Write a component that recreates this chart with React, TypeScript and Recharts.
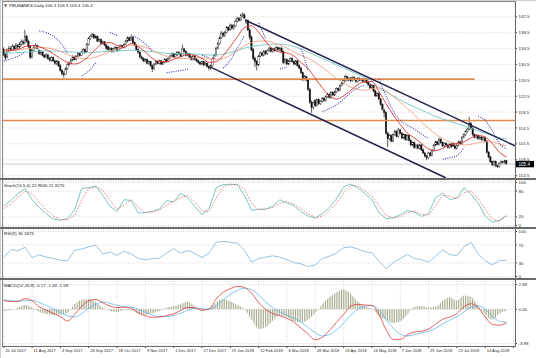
import React from 'react';
import { ComposedChart, Bar, Line, Area, XAxis, YAxis, CartesianGrid, ReferenceLine } from 'recharts';

// daily bars from 20 Jul 2017
const opens = [
  134.2, 133.0, 132.4, 134.0, 134.6, 134.2, 135.0, 134.4, 135.3, 134.9, 135.6, 136.2, 135.8, 137.6, 136.4, 135.0,
  132.4, 134.0, 134.8, 135.2, 134.0, 133.2, 133.6, 132.8, 132.4, 132.9, 132.0, 131.6, 132.2, 131.4, 130.8,
  131.2, 130.2, 129.0, 128.2, 128.0, 129.4, 130.4, 130.8, 131.6, 132.4, 131.8, 132.6, 133.2, 132.8, 133.6, 134.2,
  133.6, 135.6, 137.0, 137.6, 138.0, 137.2, 137.6, 136.4, 136.8, 135.8, 136.2, 135.4, 135.0, 134.2, 134.6,
  133.8, 134.4, 134.8, 134.0, 134.6, 135.2, 134.8, 135.6, 136.4, 137.2, 136.6, 137.4, 136.0, 135.4, 134.2, 133.6,
  132.4, 132.0, 131.4, 131.8, 130.8, 131.2, 130.2, 129.4, 130.6, 131.2, 130.8, 131.4, 130.6, 131.0, 131.8, 131.2,
  132.0, 132.6, 133.2, 132.4, 132.8, 133.6, 133.2, 132.6, 134.4, 133.8, 132.8, 133.2, 132.4, 131.8, 132.6,
  131.8, 131.4, 131.0, 130.6, 131.2, 130.4, 130.8, 130.0, 129.6, 130.2, 132.0, 132.8, 134.6, 135.8, 137.2, 138.4,
  137.8, 138.6, 139.8, 139.2, 140.4, 139.6, 140.2, 141.4, 142.0, 141.6, 142.8, 143.0, 141.0, 141.6, 139.2,
  137.4, 134.2, 132.0, 131.2, 130.4, 132.6, 133.4, 132.8, 133.8, 133.2, 134.0, 134.6, 133.8, 134.4, 134.0, 134.8,
  134.2, 134.6, 133.8, 131.0, 131.8, 130.6, 131.4, 132.0, 131.2, 130.6, 131.4, 130.2, 129.6, 128.4, 126.8, 127.4,
  126.6, 124.2, 121.0, 119.6, 121.4, 120.2, 121.6, 120.6, 121.2, 122.0, 121.4, 122.4, 123.0, 122.2, 123.4,
  122.8, 123.6, 124.4, 124.0, 125.2, 125.8, 126.4, 127.4, 126.6, 127.0, 126.4, 127.2, 126.8, 126.2, 127.0, 126.6,
  126.8, 126.2, 126.8, 126.0, 125.4, 124.6, 125.2, 123.8, 122.6, 123.2, 121.8, 120.4, 119.0, 118.4, 113.2,
  111.8, 112.6, 111.2, 112.8, 113.6, 112.4, 114.0, 113.2, 112.0, 112.8, 111.6, 112.6, 111.4, 110.2, 110.8, 109.6,
  110.2, 109.4, 110.2, 109.0, 108.2, 107.4, 107.0, 108.2, 107.6, 108.8, 110.2, 111.0, 110.4, 111.6, 110.8, 110.0,
  110.6, 110.2, 109.6, 110.4, 110.6, 110.0, 109.4, 110.2, 111.0, 110.6, 112.2, 112.8, 113.6, 114.2, 115.6,
  114.4, 112.8, 112.2, 112.6, 111.8, 112.2, 111.6, 112.0, 111.2, 108.4, 107.2, 106.0, 105.2, 106.0, 105.0, 104.8,
  105.6, 106.0, 105.8, 106.3,
];
const highs = [
  134.8, 133.6, 134.5, 135.2, 135.0, 135.6, 135.4, 135.9, 135.6, 136.1, 136.8, 136.7, 139.2, 138.0, 136.8, 135.4,
  134.4, 135.2, 135.8, 135.5, 134.3, 134.1, 133.9, 133.1, 133.3, 133.2, 132.4, 132.6, 132.5, 131.7, 131.6,
  131.5, 130.6, 129.4, 128.8, 129.8, 130.8, 131.3, 132.0, 132.8, 132.7, 132.9, 133.6, 133.5, 134.0, 134.6, 134.5,
  135.9, 137.4, 138.0, 138.4, 138.3, 137.9, 137.8, 137.1, 137.0, 136.5, 136.4, 135.7, 135.2, 134.9, 134.8,
  134.7, 135.1, 135.0, 134.9, 135.5, 135.4, 135.9, 136.7, 137.6, 137.5, 137.8, 137.6, 136.3, 135.6, 134.5, 133.8,
  132.8, 132.3, 132.1, 132.0, 131.5, 131.4, 130.5, 130.9, 131.5, 131.5, 131.7, 131.6, 131.3, 132.1, 132.0, 132.3,
  132.9, 133.5, 133.4, 133.3, 133.9, 133.8, 133.4, 135.5, 134.7, 134.0, 133.5, 133.4, 132.6, 132.9, 132.8,
  132.1, 131.7, 131.3, 131.5, 131.4, 131.1, 131.0, 130.3, 130.5, 132.3, 133.2, 134.9, 136.2, 137.6, 138.9, 138.7,
  139.0, 140.2, 140.1, 140.8, 140.7, 140.6, 141.8, 142.5, 142.4, 143.3, 143.6, 143.4, 141.9, 141.8, 139.6,
  137.8, 134.6, 132.5, 131.6, 132.9, 133.8, 133.7, 134.1, 134.1, 134.3, 134.9, 134.9, 134.7, 134.7, 135.2, 135.0,
  134.9, 134.9, 134.0, 132.1, 132.0, 131.7, 132.3, 132.3, 131.5, 131.7, 131.6, 130.5, 129.9, 128.7, 127.8, 127.7,
  126.9, 124.6, 121.5, 121.2, 121.7, 121.9, 121.9, 121.5, 122.3, 122.3, 122.7, 123.4, 123.3, 123.7, 123.8,
  123.9, 124.7, 124.7, 125.5, 126.1, 126.7, 127.9, 127.7, 127.3, 127.3, 127.5, 127.5, 127.1, 127.3, 127.3, 127.1,
  127.1, 127.0, 127.1, 126.3, 125.7, 125.5, 125.4, 124.1, 123.5, 123.5, 122.1, 120.7, 119.3, 118.7, 113.6,
  113.0, 112.9, 113.1, 114.0, 113.9, 114.5, 114.3, 113.5, 113.1, 113.0, 112.9, 112.8, 111.7, 111.1, 111.1, 110.5,
  110.5, 110.5, 110.5, 109.3, 108.5, 107.7, 108.5, 108.5, 109.1, 110.5, 111.3, 111.3, 112.1, 111.9, 111.1, 110.9,
  110.9, 110.5, 110.7, 110.7, 110.9, 110.3, 110.5, 111.3, 111.3, 112.5, 113.1, 113.9, 114.5, 117.3, 116.0,
  114.7, 113.1, 112.9, 112.9, 112.5, 112.5, 112.3, 112.3, 111.5, 108.7, 107.5, 106.3, 106.3, 106.3, 105.3, 105.9,
  106.3, 106.2, 106.5, 106.3,
];
const lows = [
  132.6, 131.6, 132.0, 133.6, 133.8, 133.9, 134.0, 134.1, 134.4, 134.6, 135.2, 135.3, 135.6, 136.0, 134.6, 131.9,
  132.0, 133.7, 134.5, 134.3, 132.9, 132.8, 132.5, 132.0, 132.1, 131.7, 131.2, 131.2, 131.1, 130.4, 130.4,
  129.9, 128.7, 127.6, 127.2, 127.8, 129.1, 130.1, 130.5, 131.3, 131.5, 131.5, 132.3, 132.5, 132.6, 133.3, 133.2,
  133.4, 135.3, 136.7, 137.3, 136.9, 137.0, 136.1, 136.2, 135.5, 135.6, 135.1, 134.2, 133.9, 134.0, 133.5,
  133.5, 134.1, 133.7, 133.8, 134.3, 134.5, 134.6, 135.4, 136.1, 136.3, 136.4, 135.8, 135.1, 133.9, 133.2, 132.0,
  131.7, 131.1, 131.1, 130.5, 130.5, 129.9, 128.6, 129.1, 130.3, 130.5, 130.5, 130.3, 130.4, 130.8, 131.0, 131.0,
  131.7, 132.4, 132.1, 132.2, 132.6, 132.9, 132.3, 132.4, 133.5, 132.5, 132.6, 132.1, 131.5, 131.5, 131.5,
  131.1, 130.7, 130.3, 130.3, 130.1, 130.1, 129.7, 129.0, 129.2, 130.0, 131.7, 132.5, 134.3, 135.4, 136.9, 137.3,
  137.4, 138.3, 138.9, 139.0, 139.3, 139.3, 140.0, 141.1, 141.3, 141.4, 142.4, 141.9, 140.7, 138.9, 136.8,
  133.8, 131.5, 129.8, 129.0, 130.1, 132.3, 132.5, 132.5, 132.9, 132.9, 133.7, 133.5, 133.5, 133.7, 133.8, 133.9,
  133.9, 133.5, 130.6, 130.7, 130.3, 130.3, 131.1, 130.9, 130.3, 130.3, 129.9, 129.3, 128.1, 126.3, 126.5, 126.2,
  123.8, 120.6, 118.3, 119.2, 119.8, 119.9, 120.3, 120.3, 120.9, 121.1, 121.1, 122.1, 121.9, 121.9, 122.5,
  122.5, 123.3, 123.7, 123.8, 124.9, 125.5, 126.1, 126.3, 126.3, 126.1, 126.1, 126.5, 125.9, 125.9, 126.3, 126.3,
  125.9, 125.9, 125.7, 125.1, 124.3, 124.3, 123.5, 122.3, 122.3, 121.5, 120.1, 118.9, 117.2, 112.8, 109.7,
  111.4, 110.9, 110.9, 112.5, 112.1, 112.1, 112.9, 111.7, 111.7, 111.3, 111.3, 111.1, 109.9, 109.9, 109.3, 109.3,
  109.1, 109.1, 108.7, 107.9, 107.1, 106.4, 106.7, 107.3, 107.3, 108.5, 109.9, 110.1, 110.1, 110.5, 109.7, 109.7,
  109.9, 109.3, 109.3, 109.5, 109.7, 109.1, 109.1, 109.9, 110.3, 110.3, 111.9, 112.5, 113.3, 113.9, 114.1,
  112.5, 111.9, 111.9, 111.5, 111.5, 111.3, 111.3, 110.9, 108.1, 106.9, 105.7, 104.9, 104.9, 104.7, 104.4, 104.5,
  105.3, 105.5, 105.5, 105.4,
];
const closes = [
  133.0, 132.2, 134.0, 134.6, 134.2, 135.0, 134.4, 135.3, 134.9, 135.6, 136.2, 135.8, 137.6, 136.4, 135.0, 132.3,
  134.0, 134.8, 135.2, 134.6, 133.2, 133.6, 132.8, 132.4, 132.9, 132.0, 131.6, 132.2, 131.4, 130.8, 131.2,
  130.2, 129.0, 128.2, 128.0, 129.4, 130.4, 130.8, 131.6, 132.4, 131.8, 132.6, 133.2, 132.8, 133.6, 134.2, 133.6,
  135.6, 137.0, 137.6, 138.0, 137.2, 137.6, 136.4, 136.8, 135.8, 136.2, 135.4, 134.6, 134.2, 134.6, 133.8,
  134.4, 134.8, 134.0, 134.6, 135.2, 134.8, 135.6, 136.4, 137.2, 136.6, 137.4, 136.0, 135.4, 134.2, 133.6, 132.4,
  132.0, 131.4, 131.8, 130.8, 131.2, 130.2, 129.4, 130.6, 131.2, 130.8, 131.4, 130.6, 131.0, 131.8, 131.2, 132.0,
  132.6, 133.2, 132.4, 133.0, 133.6, 133.2, 132.6, 134.4, 133.8, 132.8, 133.2, 132.4, 131.8, 132.6, 131.8,
  131.4, 131.0, 130.6, 131.2, 130.4, 130.8, 130.0, 129.6, 130.2, 132.0, 132.8, 134.6, 135.8, 137.2, 138.4, 137.8,
  138.6, 139.8, 139.2, 140.4, 139.6, 140.2, 141.4, 142.0, 141.6, 142.8, 143.0, 142.2, 141.6, 139.2, 137.4,
  134.2, 132.0, 131.2, 130.4, 132.6, 133.4, 132.8, 133.8, 133.2, 134.0, 134.6, 133.8, 134.4, 134.0, 134.8, 134.2,
  134.6, 133.8, 131.0, 131.8, 130.6, 131.4, 132.0, 131.2, 130.6, 131.4, 130.2, 129.6, 128.4, 126.8, 127.4, 126.6,
  124.2, 121.0, 119.6, 120.8, 120.2, 121.6, 120.6, 121.2, 122.0, 121.4, 122.4, 123.0, 122.2, 123.4, 122.8,
  123.6, 124.4, 124.0, 125.2, 125.8, 126.4, 127.4, 126.6, 127.0, 126.4, 127.2, 126.8, 126.2, 127.0, 126.6, 126.8,
  126.2, 126.8, 126.0, 125.4, 124.6, 125.2, 123.8, 122.6, 123.2, 121.8, 120.4, 119.2, 118.4, 113.2, 111.8,
  112.6, 111.2, 112.8, 113.6, 112.4, 114.0, 113.2, 112.0, 112.8, 111.6, 112.6, 111.4, 110.2, 110.8, 109.6, 110.2,
  109.4, 110.2, 109.0, 108.2, 107.4, 107.0, 108.2, 107.6, 108.8, 110.2, 111.0, 110.4, 111.6, 110.8, 110.0, 110.6,
  110.2, 109.6, 110.4, 109.8, 110.0, 109.4, 110.2, 111.0, 110.6, 112.2, 112.8, 113.6, 114.2, 115.6, 114.4,
  112.8, 112.2, 112.6, 111.8, 112.2, 111.6, 112.0, 111.2, 108.4, 107.2, 106.0, 105.2, 106.0, 105.0, 104.8, 105.6,
  106.0, 105.8, 106.2, 105.4,
];

const dateTicks = [0, 16, 32, 48, 64, 80, 96, 112, 128, 144, 160, 176, 192, 208, 224, 240, 256, 272, 288];
const dateLabels = [
  '20 Jul 2017', '11 Aug 2017', '4 Sep 2017', '26 Sep 2017', '18 Oct 2017', '9 Nov 2017', '1 Dec 2017',
  '27 Dec 2017', '19 Jan 2018', '12 Feb 2018', '6 Mar 2018', '28 Mar 2018', '23 Apr 2018', '16 May 2018',
  '7 Jun 2018', '29 Jun 2018', '23 Jul 2018', '14 Aug 2018',
];
const priceTicks = [102.5, 106.5, 110.5, 114.5, 118.5, 122.5, 126.5, 130.5, 134.5, 138.5, 142.5];

// indicators, read every 4th bar
const maFast = [
  134.2, 134.0, 134.3, 135.0, 135.3, 135.0, 134.2, 133.2, 132.0, 131.0, 130.6, 131.2, 132.6, 134.4, 135.8, 136.0, 135.3, 134.8,
  135.8, 135.0, 133.6, 132.0, 131.2, 131.2, 131.8, 132.5, 133.0, 132.8, 132.0, 131.0, 131.2, 132.8, 135.0, 137.5, 139.8, 140.2,
  138.6, 136.2, 134.4, 133.6, 133.4, 132.6, 131.0, 129.4, 127.0, 124.6, 122.6, 121.8, 122.6, 124.0, 125.4, 126.2, 126.2,
  123.6, 120.6, 117.8, 115.4, 113.2, 112.0, 110.6, 109.2, 108.8, 109.4, 110.2, 110.6, 111.0, 112.0, 112.6, 112.2, 110.6, 108.4,
  107.2,
];
const maMid = [
  134.0, 134.1, 134.2, 134.4, 134.6, 134.8, 134.7, 134.4, 133.8, 133.0, 132.4, 132.0, 132.0, 132.4, 133.0, 133.8, 134.4, 135.0,
  135.4, 135.2, 134.8, 134.0, 133.2, 132.6, 132.2, 132.0, 132.0, 132.2, 132.2, 131.9, 131.8, 132.0, 132.8, 134.0, 135.2, 136.0,
  136.4, 136.4, 136.0, 135.4, 134.6, 133.6, 132.8, 132.0, 131.0, 129.8, 128.4, 127.0, 125.8, 124.8, 124.2, 124.0, 124.4,
  124.6, 123.8, 122.4, 121.0, 119.4, 117.8, 116.0, 114.4, 113.0, 111.8, 111.0, 110.4, 110.2, 110.4, 110.8, 111.0, 111.0, 110.4,
  110.0,
];
const maSlow = [
  133.4, 133.4, 133.5, 133.6, 133.7, 133.8, 133.9, 133.9, 133.8, 133.7, 133.6, 133.5, 133.5, 133.6, 133.7, 133.8, 133.9, 134.0,
  134.1, 134.0, 133.9, 133.7, 133.5, 133.3, 133.2, 133.2, 133.2, 133.1, 133.0, 132.9, 132.9, 133.1, 133.5, 134.0, 134.6, 135.0,
  135.3, 135.5, 135.6, 135.6, 135.4, 135.0, 134.4, 133.6, 132.8, 132.0, 131.2, 130.4, 129.6, 128.8, 128.0, 127.2, 126.4,
  124.6, 123.6, 122.6, 121.6, 120.6, 119.8, 119.0, 118.2, 117.4, 116.8, 116.2, 115.6, 115.0, 114.4, 113.8, 113.2, 112.6, 112.0,
  111.7,
];
const sar = [
  131.4, 131.9, 132.6, 133.6, null, 139.0, 138.5, 137.6, 136.0, 133.4, null, 127.6, 128.8, 131.0, null, 138.6, 137.8, null,
  138.0, 137.0, 135.6, 134.0, null, 128.4, 128.7, 129.0, 129.3, null, 132.8, 132.2, null, 129.6, 131.6, 134.6, 137.8, null,
  141.0, 137.0, null, 129.4, 129.8, null, 134.4, 129.0, null, 118.6, 119.4, 120.4, 121.8, 123.4, 124.6, 125.3, null,
  126.8, 122.4, 118.8, 116.4, 115.2, 114.2, 113.0, 111.8, null, 106.6, 107.0, 107.5, 109.6, null, 117.4, 116.4, 113.8, 110.6,
  109.2,
];
const stochMain = [
  46, 58, 74, 86, 60, 42, 28, 15, 12, 16, 36, 86, 88, 92, 70, 44, 33, 60,
  58, 29, 30, 33, 38, 58, 55, 75, 64, 44, 25, 40, 88, 95, 96, 95, 70, 35, 38, 38, 45, 60, 52, 46, 32, 22, 17, 28, 42, 62, 90, 96, 88, 74, 60,
  30, 16, 18, 25, 35, 31, 21, 28, 65, 75, 60, 64, 88, 72, 52, 22, 8, 12,
  23,
];
const stochSignal = [
  40, 50, 66, 80, 74, 54, 36, 22, 14, 13, 24, 60, 86, 90, 82, 58, 38, 48,
  60, 42, 30, 31, 36, 48, 56, 65, 70, 54, 34, 32, 64, 90, 95, 96, 84, 52, 36, 38, 42, 52, 56, 49, 39, 27, 19, 22, 35, 52, 76, 93, 92, 81, 68,
  45, 24, 17, 21, 30, 33, 26, 24, 46, 70, 68, 62, 76, 80, 62, 37, 15, 10,
  22,
];
const rsi = [
  42, 60, 57, 65, 42, 48, 43, 40, 36, 35, 58, 61, 66, 69, 50, 54, 47, 56,
  50, 40, 37, 40, 41, 52, 62, 52, 58, 51, 42, 52, 76, 78, 76, 74, 58, 32, 40, 43, 46, 43, 37, 31, 28, 22, 26, 40, 45, 52, 64, 66, 61, 55, 53,
  34, 17, 31, 40, 49, 40, 37, 32, 45, 59, 49, 46, 66, 76, 50, 35, 26, 35,
  36.2,
];
const macdMain = [
  1.03, 0.9, 0.92, 1.25, 1.0, 0.3, -0.1, -0.48, -0.86, -1.36, -0.6, 0.35, 1.0, 1.15, 0.75, 0.38, 0.2, 0.25,
  0.12, -0.4, -0.75, -0.93, -0.9, -0.72, -0.53, -0.12, 0.22, 0.2, -0.1, 0.05, 1.2, 2.0, 2.4, 2.68, 2.55, 1.85, 0.8, -0.02,
  -0.48, -0.75, -1.05, -1.5, -2.2, -2.9, -3.55, -3.24, -2.45, -1.5, -0.6, 0.38, 0.58, 0.5, 0.45,
  -0.6, -2.4, -3.5, -3.5, -2.95, -2.65, -2.56, -2.3, -1.7, -1.15, -0.9, -0.5, 0.3, 0.65, 0.2, -0.9, -1.75, -1.85,
  -1.58,
];
const macdSignal = [
  1.1, 1.0, 0.95, 1.0, 1.05, 0.8, 0.45, 0.05, -0.35, -0.75, -0.9, -0.5, 0.1, 0.6, 0.85, 0.7, 0.45, 0.3,
  0.25, 0.0, -0.35, -0.65, -0.85, -0.85, -0.72, -0.45, -0.1, 0.12, 0.08, 0.0, 0.4, 1.1, 1.75, 2.2, 2.45, 2.3, 1.65, 0.85,
  0.2, -0.3, -0.7, -1.05, -1.5, -2.1, -2.75, -3.1, -2.95, -2.4, -1.6, -0.7, 0.0, 0.35, 0.45,
  -0.1, -1.2, -2.2, -2.9, -3.1, -2.95, -2.75, -2.55, -2.2, -1.7, -1.25, -0.85, -0.3, 0.25, 0.4, 0.0, -0.8, -1.4,
  -1.49,
];
const macdHist = [
  -0.2, -0.1, 0.2, 0.5, 0.2, -0.3, -0.55, -0.65, -0.6, -0.4, 0.6, 1.1, 1.2, 0.8, 0.2, -0.2, -0.3, -0.1,
  -0.1, -0.5, -0.6, -0.45, -0.2, 0.2, 0.4, 0.6, 0.9, 0.3, -0.2, 0.1, 0.8, 1.2, 0.9, 0.5, 0.0, -1.2, -2.3, -2.1,
  -1.3, -0.7, -0.9, -1.4, -1.5, -1.2, -0.4, 0.6, 1.4, 2.0, 2.3, 1.8, 0.9, 0.3, 0.1,
  -0.8, -1.2, -1.6, -1.4, -0.6, 0.3, 0.4, 0.2, 0.3, 1.0, 1.4, 1.0, 1.6, 1.4, 0.4, -0.6, -1.2, -0.5,
  -0.17,
];

// drawn objects
const levelUpper = 126.8;
const levelUpperEnd = 266;
const levelLower = 116.4;
const channelUpper = [{ x: 136.3, y: 141.7 }, { x: 288.8, y: 110.0 }];
const channelLower = [{ x: 116.5, y: 129.9 }, { x: 249.6, y: 101.95 }];
const lastPrice = 105.4;

const STEP = 4;
const X_DOMAIN: [number, number] = [-0.45, 288.8];
const FONT = '"Liberation Sans", Arial, sans-serif';
const AXIS_TXT = { fontSize: 4.4, fill: '#2a2a2a', fontFamily: FONT };
const GRID = '#bdbdbd';

const candles = closes.map((c, i) => ({
  i, o: opens[i], h: highs[i], l: lows[i], c, range: [lows[i], highs[i]],
}));

const ind = maFast.map((v, k) => ({
  i: k * STEP,
  maFast: v, maMid: maMid[k], maSlow: maSlow[k], sar: sar[k],
  stochMain: stochMain[k], stochSignal: stochSignal[k], rsi: rsi[k],
  macdMain: macdMain[k], macdSignal: macdSignal[k], macdHist: macdHist[k],
}));

function Candle(props: any) {
  const { x, y, width, height, payload } = props;
  if (!payload || x == null) return null;
  const top = Math.min(y, y + height);
  const bot = Math.max(y, y + height);
  const span = payload.h - payload.l;
  const py = (v: number) => (span === 0 ? top : top + ((payload.h - v) / span) * (bot - top));
  const cx = x + width / 2;
  const up = payload.c >= payload.o;
  const bTop = py(Math.max(payload.o, payload.c));
  const bBot = py(Math.min(payload.o, payload.c));
  return (
    <g>
      <line x1={cx} x2={cx} y1={top} y2={bot} stroke="#111" strokeWidth={0.7} />
      <rect x={cx - 0.7} y={bTop} width={1.4} height={Math.max(0.6, bBot - bTop)}
        fill={up ? '#fff' : '#111'} stroke="#111" strokeWidth={0.4} />
    </g>
  );
}

function PriceTag(props: any) {
  const vb = props.viewBox || {};
  const x = vb.x + vb.width + 1;
  const y = vb.y;
  return (
    <g>
      <rect x={x} y={y - 3.2} width={18} height={6.4} fill="#000" />
      <text x={x + 2.5} y={y + 1.6} fontSize={4.6} fill="#fff" fontFamily={FONT}>{lastPrice.toFixed(1)}</text>
    </g>
  );
}

function DateTick(props: any) {
  const { x, y, payload } = props;
  const label = dateLabels[dateTicks.indexOf(payload.value)] || '';
  return (
    <text x={x + 1.5} y={y + 4} fontSize={4} fill="#2a2a2a" fontFamily={FONT}>{label}</text>
  );
}

const margin = { top: 0, right: 0, bottom: 0, left: 0 };

export default function App() {
  return (
    <div style={{ position: 'absolute', left: 0, top: 0, width: 536, height: 358, background: '#fff', overflow: 'hidden' }}>
      {/* price */}
      <div style={{ position: 'absolute', left: 3, top: 2 }}>
        <ComposedChart width={533} height={176} data={candles} margin={margin}>
          <CartesianGrid stroke={GRID} strokeDasharray="1 1.5" strokeWidth={0.6} />
          <XAxis type="number" dataKey="i" domain={X_DOMAIN} ticks={dateTicks} allowDataOverflow
            height={0} tick={false} tickLine={false} axisLine={false} />
          <YAxis orientation="right" width={21} domain={[101.9, 146.23]} ticks={priceTicks} allowDataOverflow
            interval={0} tickSize={2} tickMargin={1.5} axisLine={false} tickLine={{ stroke: '#444' }}
            tick={AXIS_TXT} tickFormatter={(v: number) => v.toFixed(1)} />
          <ReferenceLine y={levelLower} stroke="#e08a52" strokeWidth={1.6} />
          <ReferenceLine segment={[{ x: X_DOMAIN[0], y: levelUpper }, { x: levelUpperEnd, y: levelUpper }]}
            stroke="#e08a52" strokeWidth={1.6} />
          <ReferenceLine y={lastPrice} stroke="#a8a8a8" strokeWidth={0.6} label={<PriceTag />} />
          <Bar dataKey="range" barSize={1.4} shape={<Candle />} isAnimationActive={false} />
          <Line data={ind} dataKey="maSlow" type="monotone" stroke="#6cc8c4" strokeWidth={0.9} dot={false} isAnimationActive={false} />
          <Line data={ind} dataKey="maMid" type="monotone" stroke="#f0a080" strokeWidth={0.9} dot={false} isAnimationActive={false} />
          <Line data={ind} dataKey="maFast" type="monotone" stroke="#d83232" strokeWidth={0.9} dot={false} isAnimationActive={false} />
          <Line data={ind} dataKey="sar" type="monotone" stroke="#3c3cae" strokeWidth={1.1} strokeDasharray="1 1.3"
            dot={false} connectNulls={false} isAnimationActive={false} />
          <ReferenceLine segment={channelUpper} stroke="#23234e" strokeWidth={1.5} ifOverflow="hidden" />
          <ReferenceLine segment={channelLower} stroke="#23234e" strokeWidth={1.5} ifOverflow="hidden" />
        </ComposedChart>
      </div>

      {/* stochastic */}
      <div style={{ position: 'absolute', left: 3, top: 181 }}>
        <ComposedChart width={533} height={46} data={ind} margin={margin}>
          <CartesianGrid stroke={GRID} strokeDasharray="1 1.5" strokeWidth={0.6} />
          <XAxis type="number" dataKey="i" domain={X_DOMAIN} ticks={dateTicks} allowDataOverflow
            height={0} tick={false} tickLine={false} axisLine={false} />
          <YAxis orientation="right" width={21} domain={[-3.5, 103.5]} ticks={[0, 20, 80, 100]} allowDataOverflow
            interval={0} tickSize={2} tickMargin={1.5} axisLine={false} tickLine={{ stroke: '#444' }} tick={AXIS_TXT} />
          <Line dataKey="stochMain" type="linear" stroke="#5ab9b9" strokeWidth={0.8} dot={false} isAnimationActive={false} />
          <Line dataKey="stochSignal" type="linear" stroke="#e04646" strokeWidth={0.7} strokeDasharray="1.5 1.5"
            dot={false} isAnimationActive={false} />
        </ComposedChart>
      </div>

      {/* RSI */}
      <div style={{ position: 'absolute', left: 3, top: 230 }}>
        <ComposedChart width={533} height={48} data={ind} margin={margin}>
          <CartesianGrid stroke={GRID} strokeDasharray="1 1.5" strokeWidth={0.6} />
          <XAxis type="number" dataKey="i" domain={X_DOMAIN} ticks={dateTicks} allowDataOverflow
            height={0} tick={false} tickLine={false} axisLine={false} />
          <YAxis orientation="right" width={21} domain={[-3.3, 103.3]} ticks={[0, 30, 70, 100]} allowDataOverflow
            interval={0} tickSize={2} tickMargin={1.5} axisLine={false} tickLine={{ stroke: '#444' }} tick={AXIS_TXT} />
          <Line dataKey="rsi" type="linear" stroke="#78b2dc" strokeWidth={0.8} dot={false} isAnimationActive={false} />
        </ComposedChart>
      </div>

      {/* MACD */}
      <div style={{ position: 'absolute', left: 3, top: 281 }}>
        <ComposedChart width={533} height={76} data={ind} margin={margin}>
          <defs>
            <pattern id="macdHatch" width={1.77} height={4} patternUnits="userSpaceOnUse">
              <rect x={0} y={0} width={0.9} height={4} fill="#a3a88a" />
            </pattern>
          </defs>
          <CartesianGrid stroke={GRID} strokeDasharray="1 1.5" strokeWidth={0.6} />
          <XAxis type="number" dataKey="i" domain={X_DOMAIN} ticks={dateTicks} allowDataOverflow interval={0}
            height={11} tickSize={2} tickMargin={0} axisLine={false} tickLine={{ stroke: '#444' }} tick={<DateTick />} />
          <YAxis orientation="right" width={21} domain={[-4.27, 3.3]} ticks={[-3.98, 0, 2.89]} allowDataOverflow
            interval={0} tickSize={2} tickMargin={1.5} axisLine={false} tickLine={{ stroke: '#444' }} tick={AXIS_TXT}
            tickFormatter={(v: number) => v.toFixed(2)} />
          <Area dataKey="macdHist" type="monotone" baseValue={0} fill="url(#macdHatch)" fillOpacity={1}
            stroke="none" isAnimationActive={false} />
          <Line dataKey="macdSignal" type="monotone" stroke="#62b8e8" strokeWidth={0.8} dot={false} isAnimationActive={false} />
          <Line dataKey="macdMain" type="monotone" stroke="#e03a3a" strokeWidth={0.8} dot={false} isAnimationActive={false} />
        </ComposedChart>
      </div>

      {/* frame */}
      <div style={{ position: 'absolute', left: 0, top: 0, width: 536, height: 1, background: '#cfcfcf' }} />
      <div style={{ position: 'absolute', left: 0, top: 0, width: 1, height: 358, background: '#cfcfcf' }} />
      <div style={{ position: 'absolute', left: 2, top: 1, width: 1, height: 346, background: '#8a8a8a' }} />
      <div style={{ position: 'absolute', left: 515, top: 1, width: 1, height: 346, background: '#6a6a6a' }} />
      <div style={{ position: 'absolute', left: 2, top: 1, width: 514, height: 1, background: '#8a8a8a' }} />
      <div style={{ position: 'absolute', left: 0, top: 178, width: 536, height: 2, background: '#6a6a6a' }} />
      <div style={{ position: 'absolute', left: 0, top: 227, width: 536, height: 2, background: '#6a6a6a' }} />
      <div style={{ position: 'absolute', left: 0, top: 278, width: 536, height: 2, background: '#6a6a6a' }} />
      <div style={{ position: 'absolute', left: 2, top: 346, width: 514, height: 1, background: '#6a6a6a' }} />

      <svg width={536} height={358} style={{ position: 'absolute', left: 0, top: 0, pointerEvents: 'none' }}>
        <polygon points="4,4.6 7,4.6 5.5,7" fill="#333" />
        <text x={9} y={7} fontSize={4.4} fill="#222" fontFamily={FONT}>PBUBANKS,Daily  106.3 106.3 105.4 105.4</text>
        <text x={4} y={186.5} fontSize={4.4} fill="#222" fontFamily={FONT}>Stoch(15,5,4) 22.9630 21.9275</text>
        <text x={4} y={234.5} fontSize={4.4} fill="#222" fontFamily={FONT}>RSI(9) 36.1873</text>
        <text x={4} y={286.5} fontSize={4.4} fill="#222" fontFamily={FONT}>MACD(12,26,9) -0.17 -1.49 -1.58</text>
      </svg>
    </div>
  );
}
